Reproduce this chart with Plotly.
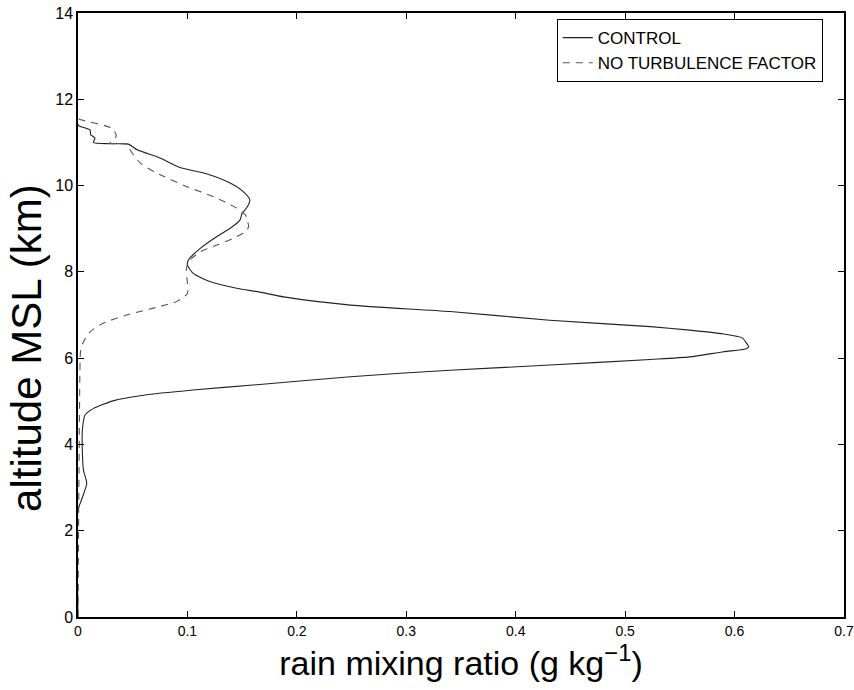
import plotly.graph_objects as go

# CONTROL profile: altitude (km) and rain mixing ratio (g/kg)
control_alt = [0, 2.48, 2.7, 3.1, 3.4, 3.8, 4.33, 4.68, 4.83, 5.01, 5.14, 5.26, 5.39,
               5.57, 5.72, 5.84, 5.97, 6.03, 6.15, 6.21, 6.26, 6.38, 6.47, 6.56, 6.65,
               6.73, 6.88, 7.08, 7.23, 7.42, 7.53, 7.62, 7.77, 7.97, 8.16, 8.28, 8.55,
               8.82, 9.01, 9.2, 9.36, 9.48, 9.67, 9.86, 10.06, 10.27, 10.42, 10.64,
               10.83, 10.96, 10.97, 11.0, 11.1, 11.18, 11.29, 11.38, 11.42]
control_q = [0, 0, 0.003, 0.008, 0.005, 0.004, 0.004, 0.0064, 0.014, 0.032, 0.06, 0.105, 0.166,
             0.249, 0.340, 0.431, 0.523, 0.559, 0.590, 0.610, 0.613, 0.610, 0.607, 0.590, 0.559,
             0.523, 0.431, 0.340, 0.249, 0.188, 0.166, 0.145, 0.121, 0.105, 0.100, 0.101, 0.112,
             0.127, 0.139, 0.148, 0.150, 0.154, 0.157, 0.151, 0.139, 0.118, 0.093, 0.075,
             0.054, 0.046, 0.029, 0.014, 0.0155, 0.0116, 0.011, 0.001, 0]

# NO TURBULENCE FACTOR profile
noturb_alt = [0, 6.03, 6.19, 6.38, 6.61, 6.81, 7.0, 7.16, 7.31, 7.50, 7.74, 8.04, 8.24,
              8.47, 8.62, 8.78, 8.93, 9.05, 9.16, 9.32, 9.48, 9.74, 9.98, 10.29, 10.52,
              10.85, 10.96, 10.98, 11.15, 11.33, 11.53, 11.56]
noturb_q = [0, 0.002, 0.0025, 0.005, 0.011, 0.023, 0.0445, 0.069, 0.090, 0.100, 0.100, 0.099, 0.101,
            0.112, 0.127, 0.142, 0.153, 0.156, 0.155, 0.153, 0.145, 0.124, 0.099, 0.072, 0.057,
            0.047, 0.046, 0.029, 0.035, 0.031, 0.002, 0]

x_ticks = [0, 0.1, 0.2, 0.3, 0.4, 0.5, 0.6, 0.7]
x_tick_labels = ["0", "0.1", "0.2", "0.3", "0.4", "0.5", "0.6", "0.7"]
y_ticks = [0, 2, 4, 6, 8, 10, 12, 14]

fig = go.Figure()
fig.add_trace(go.Scatter(x=control_q, y=control_alt, mode="lines", name="CONTROL",
                         line=dict(color="#222222", width=1.1, shape="spline", smoothing=0.6)))
fig.add_trace(go.Scatter(x=noturb_q, y=noturb_alt, mode="lines", name="NO TURBULENCE FACTOR",
                         line=dict(color="#555555", width=1.1, dash="7px,6px",
                                   shape="spline", smoothing=0.6)))

axis_common = dict(showline=True, linecolor="black", linewidth=1.5, mirror="ticks",
                   ticks="inside", ticklen=6, tickcolor="black", tickwidth=1,
                   showgrid=False, zeroline=False, automargin=False)

fig.update_layout(
    width=854, height=690,
    margin=dict(l=78, r=10, t=13, b=73),
    paper_bgcolor="white", plot_bgcolor="white",
    font=dict(family="Liberation Sans, Arial, sans-serif", color="black", size=15),
    xaxis=dict(range=[0, 0.7], tickvals=x_ticks, ticktext=x_tick_labels,
               tickfont=dict(size=14), title=dict(text="rain mixing ratio (g kg<sup>−1</sup>)",
               font=dict(size=34), standoff=3), **axis_common),
    yaxis=dict(range=[0, 14], tickvals=y_ticks, tickfont=dict(size=16), **axis_common),
    legend=dict(x=0.625, y=0.99, xanchor="left", yanchor="top",
                bgcolor="white", bordercolor="black", borderwidth=1,
                font=dict(size=17), tracegroupgap=0, itemwidth=30),
    showlegend=True,
    annotations=[dict(text="altitude MSL (km)", textangle=-90, xref="paper", yref="paper",
                      x=-0.067, y=0.445, xanchor="center", yanchor="middle",
                      showarrow=False, borderpad=0, font=dict(size=42))],
)

fig.write_html("out.html")
